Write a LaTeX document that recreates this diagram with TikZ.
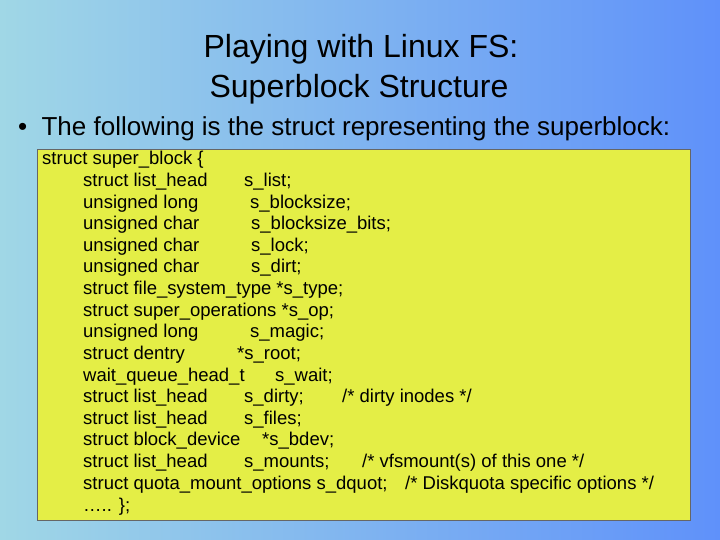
\documentclass[tikz,border=0pt]{standalone}
\usepackage{fontspec}
\setmainfont{Liberation Sans}
\definecolor{bgl}{RGB}{160,215,230}
\definecolor{bgr}{RGB}{95,145,250}
\definecolor{yel}{RGB}{228,238,70}
\begin{document}
\begin{tikzpicture}[x=1pt,y=-1pt,
  code/.style={anchor=west,inner sep=0pt,yshift=-2pt,font=\fontsize{18.5}{20}\selectfont},
  ttl/.style={font=\fontsize{32}{36}\selectfont,inner sep=0pt}]
\useasboundingbox (0,0) rectangle (720,540);
\shade[left color=bgl,right color=bgr] (0,0) rectangle (720,540);
\node[ttl] (t1) at (361,49) {Playing with Linux FS:};
\node[ttl] (t2) at (359,89) {Superblock Structure};
\node[anchor=west,inner sep=0pt,font=\fontsize{26}{28}\selectfont] (b) at (18,129) {•\hspace{0.55em}The following is the struct representing the superblock:};
\draw[fill=yel,draw=black!60,line width=0.6pt] (37,149) rectangle (690,520);
\node[code] (l0) at (42,158) {struct super\_block \{};
\foreach \y/\a/\bx/\b in {180/struct list\_head/244/s\_list;, 202/unsigned long/250/s\_blocksize;, 223/unsigned char/251/s\_blocksize\_bits;, 245/unsigned char/251/s\_lock;, 266/unsigned char/251/s\_dirt;, 310/struct super\_operations *s\_op;/83/{}, 331/unsigned long/250/s\_magic;, 353/struct dentry/237/*s\_root;, 375/wait\_queue\_head\_t/275/s\_wait;, 396/struct list\_head/244/s\_dirty;, 418/struct list\_head/244/s\_files;, 439/struct block\_device/262/*s\_bdev;, 461/struct list\_head/244/s\_mounts;}{
  \node[code] at (83,\y) {\a};
  \node[code] at (\bx,\y) {\b};
}
\node[code] (l7) at (83,288) {struct file\_system\_type *s\_type;};
\node[code] (c1) at (342,396) {/* dirty inodes */};
\node[code] (c2) at (362,461) {/* vfsmount(s) of this one */};
\node[code] (l16) at (83,483) {struct quota\_mount\_options s\_dquot;};
\node[code] (c3) at (405,483) {/* Diskquota specific options */};
\node[code] (l17) at (83,505) {….. \};};
\end{tikzpicture}
\end{document}
